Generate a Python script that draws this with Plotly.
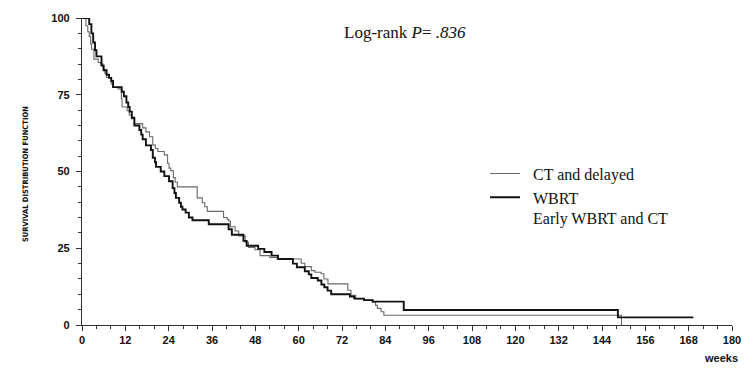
import plotly.graph_objects as go

# Kaplan-Meier step data (weeks, survival %)
ct_delayed_t = [0, 1.1, 1.6, 2.0, 2.4, 2.65, 3.3, 4.5, 5.1, 5.85, 6.3, 6.8, 8.1, 8.6, 10.0, 10.9, 11.1,
                12.5, 13.1, 13.7, 14.5, 16.8, 17.7, 18.7, 19.6, 20.3, 21.0, 22.8, 23.7, 24.1, 24.6,
                25.3, 25.8, 26.4, 31.9, 33.3, 34.0, 34.7, 39.2, 40.2, 40.6, 41.1, 42.4, 43.4, 45.2,
                46.1, 47.9, 49.3, 52.0, 54.0, 60.7, 61.7, 63.5, 64.5, 66.2, 67.0, 68.1, 73.6, 74.5,
                75.8, 78.1, 80.4, 81.3, 81.8, 82.8, 83.6, 149.4]
ct_delayed_s = [100, 97.5, 95.5, 94, 91.5, 89.8, 86.6, 85.5, 85, 83.3, 82, 80.6, 78.5, 77.4, 76.9, 73.7, 71.0,
                69.8, 68.3, 67.2, 65.6, 64.2, 62.9, 61.3, 58.6, 57.5, 56.5, 55.4, 52.7, 51.1, 50.3,
                48.0, 46.5, 45.0, 41.4, 39.8, 38.5, 37.0, 35.0, 34.4, 33.9, 32.0, 30.6, 29.0, 26.9,
                25.3, 24.5, 22.6, 22.0, 21.5, 20.1, 19.0, 17.7, 17.2, 16.7, 15.0, 13.4, 11.3, 9.7,
                8.6, 8.1, 7.5, 6.4, 5.4, 4.3, 3.2, 0]

early_t = [0, 2.0, 2.6, 3.1, 3.6, 4.0, 5.4, 6.0, 6.8, 7.5, 8.1, 8.6, 11.0, 11.6, 12.3, 12.8, 13.2,
           13.8, 14.5, 15.9, 16.4, 16.8, 17.7, 19.1, 19.6, 20.2, 20.5, 21.8, 22.8, 24.1, 25.1,
           25.6, 26.0, 26.9, 27.4, 27.8, 28.7, 29.6, 30.6, 35.1, 40.6, 41.5, 44.7, 45.6, 48.8,
           50.5, 52.5, 54.3, 58.4, 59.5, 61.7, 62.8, 63.5, 65.3, 66.3, 67.1, 68.0, 69.0, 74.2,
           75.4, 78.1, 80.5, 89.1, 148.4, 169.3]
early_s = [100, 98, 95, 92, 89.5, 87.5, 84.5, 83, 81.5, 80.5, 79.5, 77.5, 76, 74.5, 72.5, 71, 69.5,
           67.5, 65, 63.5, 62, 60.5, 58.5, 57, 54.5, 53, 51.5, 50, 48.5, 46.8, 44.6,
           43, 41.4, 39.8, 38.5, 37.6, 36.6, 35, 34.1, 32.8, 31.2, 29.4, 27.4, 25.8, 24.8,
           23.8, 22.6, 21.5, 20, 18.8, 17.5, 16.5, 15.3, 14.5, 13.2, 12.3, 11.2, 10.0, 9.3,
           8.6, 8.1, 7.6, 4.9, 2.5, 2.5]

series_names = ["\u00a0\u00a0CT and delayed", "\u00a0\u00a0WBRT<br>\u00a0\u00a0Early WBRT and CT"]
x_ticks = list(range(0, 181, 12))
y_ticks = [0, 25, 50, 75, 100]

fig = go.Figure()
fig.add_trace(go.Scatter(x=ct_delayed_t, y=ct_delayed_s, mode="lines", line_shape="hv",
                         line=dict(color="#6a6a6a", width=1.1), name=series_names[0]))
fig.add_trace(go.Scatter(x=early_t, y=early_s, mode="lines", line_shape="hv",
                         line=dict(color="#111111", width=1.9), name=series_names[1]))

tickfont = dict(family="Liberation Sans", size=11, color="#111", weight="bold")
fig.update_layout(
    width=753, height=369,
    margin=dict(l=82, r=15, t=15, b=44),
    plot_bgcolor="white", paper_bgcolor="white",
    showlegend=True,
    legend=dict(x=0.62, y=0.42, xanchor="left", yanchor="middle", valign="top",
                font=dict(family="Liberation Serif", size=16, color="#111"),
                bgcolor="rgba(0,0,0,0)", tracegroupgap=0, itemwidth=30),
    xaxis=dict(range=[0, 180], tickvals=x_ticks, ticks="outside", ticklen=5, tickwidth=1.2,
               tickcolor="#333", showline=True, linecolor="#333", linewidth=1.3,
               showgrid=False, zeroline=False, tickfont=tickfont,
               minor=dict(dtick=4, ticks="outside", ticklen=3, tickcolor="#333", tickwidth=1)),
    yaxis=dict(range=[0, 100], tickvals=y_ticks, ticks="outside", ticklen=5, tickwidth=1.2,
               tickcolor="#333", showline=True, linecolor="#333", linewidth=1.3,
               showgrid=False, zeroline=False, tickfont=tickfont, ticklabelstandoff=4,
               minor=dict(dtick=5, ticks="outside", ticklen=3, tickcolor="#333", tickwidth=1)),
)

fig.add_annotation(text="Log-rank <i>P</i>= <i>.836</i>", xref="paper", yref="paper",
                   x=(408 - 82) / 656, y=(325 - 30) / 310, xanchor="center", yanchor="middle",
                   showarrow=False, font=dict(family="Liberation Serif", size=17, color="#111"))
fig.add_annotation(text="SURVIVAL DISTRIBUTION FUNCTION", xref="paper", yref="paper",
                   x=(25 - 82) / 656, y=(325 - 173) / 310, xanchor="center", yanchor="middle",
                   showarrow=False, textangle=-90,
                   font=dict(family="DejaVu Sans Condensed, Liberation Sans Narrow, Liberation Sans",
                             size=7.5, color="#111", weight="bold"))
fig.add_annotation(text="weeks", xref="paper", yref="paper",
                   x=(727 - 82) / 656, y=(325 - 358) / 310, xanchor="center", yanchor="middle",
                   showarrow=False,
                   font=dict(family="Liberation Sans", size=11, color="#111", weight="bold"))

fig.write_html("out.html", config={"displayModeBar": False},
               post_script="document.body.style.margin='0';document.body.style.overflow='hidden';")
